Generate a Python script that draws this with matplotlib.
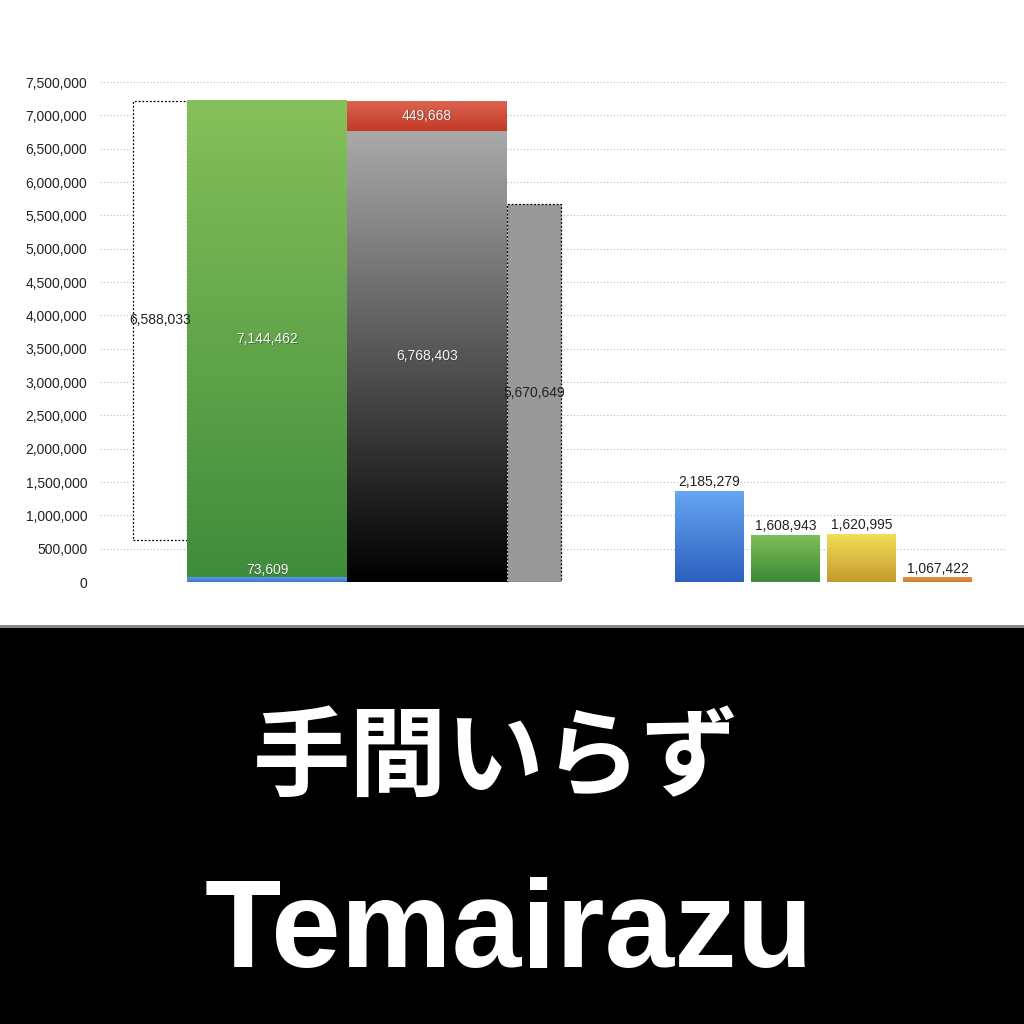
import numpy as np
import matplotlib.pyplot as plt
from matplotlib.patches import Rectangle
from matplotlib.colors import LinearSegmentedColormap
from matplotlib.ticker import FuncFormatter

# data
remain_before = 6588033
blue_small = 73609
green_big = 7144462
gray_big = 6768403
red_top = 449668
remain_after = 5670649

right_labels = [2185279, 1608943, 1620995, 1067422]
right_heights = [1365000, 705000, 720000, 70000]   # heights as drawn in the picture
right_colors = [('#66a6f2', '#2b60bf'), ('#7fbe59', '#3a8a37'),
                ('#f3de55', '#c49a2f'), ('#e6964a', '#d07a30')]

yticks = np.arange(0, 7500001, 500000)

FONT = 'Liberation Sans'
FS = 10

fig = plt.figure(figsize=(10.24, 10.24), dpi=100)
fig.patch.set_facecolor('white')

# black band at the bottom
fig.patches.append(Rectangle((0, 0), 1, 0.3867, transform=fig.transFigure,
                             facecolor='black', edgecolor='none', zorder=0))
fig.patches.append(Rectangle((0, 0.3867), 1, 0.0025, transform=fig.transFigure,
                             facecolor='#8a8a8a', edgecolor='none', zorder=0))

ax = fig.add_axes([100/1024, 442/1024, 905/1024, 500/1024])
ax.set_xlim(100, 1005)
ax.set_ylim(0, 7500000)
for s in ax.spines.values():
    s.set_visible(False)
ax.set_xticks([])
ax.set_yticks(yticks)
ax.yaxis.set_major_formatter(FuncFormatter(lambda v, p: f'{int(v):,}'))
ax.tick_params(axis='y', length=0, pad=9, labelsize=FS, labelcolor='#222222')
for lab in ax.get_yticklabels():
    lab.set_family(FONT)
ax.grid(axis='y', color='#bbbbbb', linestyle=(0, (1, 2)), linewidth=0.8)
ax.set_axisbelow(True)


def grad_bar(left, bottom, width, height, top_c, bot_c):
    cmap = LinearSegmentedColormap.from_list('g', [bot_c, top_c])
    grad = np.linspace(0, 1, 256).reshape(-1, 1)
    ax.imshow(grad, cmap=cmap, origin='lower', aspect='auto',
              extent=(left, left + width, bottom, bottom + height), zorder=2)


def shadow_text(x, y, s, **kw):
    ax.text(x + 0.8, y - 9000, s, color='#333333', alpha=0.5, ha='center',
            fontsize=FS, family=FONT, zorder=4, **kw)
    ax.text(x, y, s, color='#f4f4f4', ha='center', fontsize=FS, family=FONT, zorder=5, **kw)


def dark_text(x, y, s, **kw):
    ax.text(x, y, s, ha='center', fontsize=FS, family=FONT, color='#222222', zorder=5, **kw)


top_total = blue_small + green_big

# left dashed outline bar (remaining before)
ax.add_patch(Rectangle((133, top_total - remain_before), 54, remain_before,
                       facecolor='white', edgecolor='black', linestyle=(0, (1.5, 1.5)),
                       linewidth=0.9, zorder=2))
dark_text(160, top_total - remain_before / 2, f'{remain_before:,}', va='center')

# green stacked bar
grad_bar(187, 0, 160, blue_small, '#5a9ae6', '#3c78d0')
grad_bar(187, blue_small, 160, green_big, '#86c05a', '#3f8c3b')
shadow_text(267, blue_small + green_big / 2, f'{green_big:,}', va='center')
shadow_text(267, blue_small, f'{blue_small:,}', va='bottom')

# gray stacked bar
grad_bar(347, 0, 160, gray_big, '#aaaaaa', '#000000')
grad_bar(347, gray_big, 160, red_top, '#dc6450', '#c23a26')
shadow_text(427, gray_big / 2, f'{gray_big:,}', va='center')
shadow_text(427, gray_big + red_top / 2, f'{red_top:,}', va='center')

# dashed gray bar (remaining after)
ax.add_patch(Rectangle((507, 0), 54, remain_after, facecolor='#999999', edgecolor='black',
                       linestyle=(0, (1.5, 1.5)), linewidth=0.9, zorder=2))
dark_text(534, remain_after / 2, f'{remain_after:,}', va='center')

# right group
right_lefts = [675, 751, 827, 903]
for l, h, lab, (tc, bc) in zip(right_lefts, right_heights, right_labels, right_colors):
    grad_bar(l, 0, 69, h, tc, bc)
    dark_text(l + 34.5, h + 25000, f'{lab:,}', va='bottom')

ax.set_xlim(100, 1005)
ax.set_ylim(0, 7500000)

fig.text(0.484, 0.258, '手間いらず', ha='center', va='center', color='white',
         fontsize=70, fontweight='bold', family=['Noto Sans CJK JP', 'DejaVu Sans'])
fig.text(0.497, 0.0557, 'Temairazu', ha='center', va='baseline', color='white',
         fontsize=90, fontweight='bold', family='Liberation Sans')

fig.savefig('out.png', dpi=100)
